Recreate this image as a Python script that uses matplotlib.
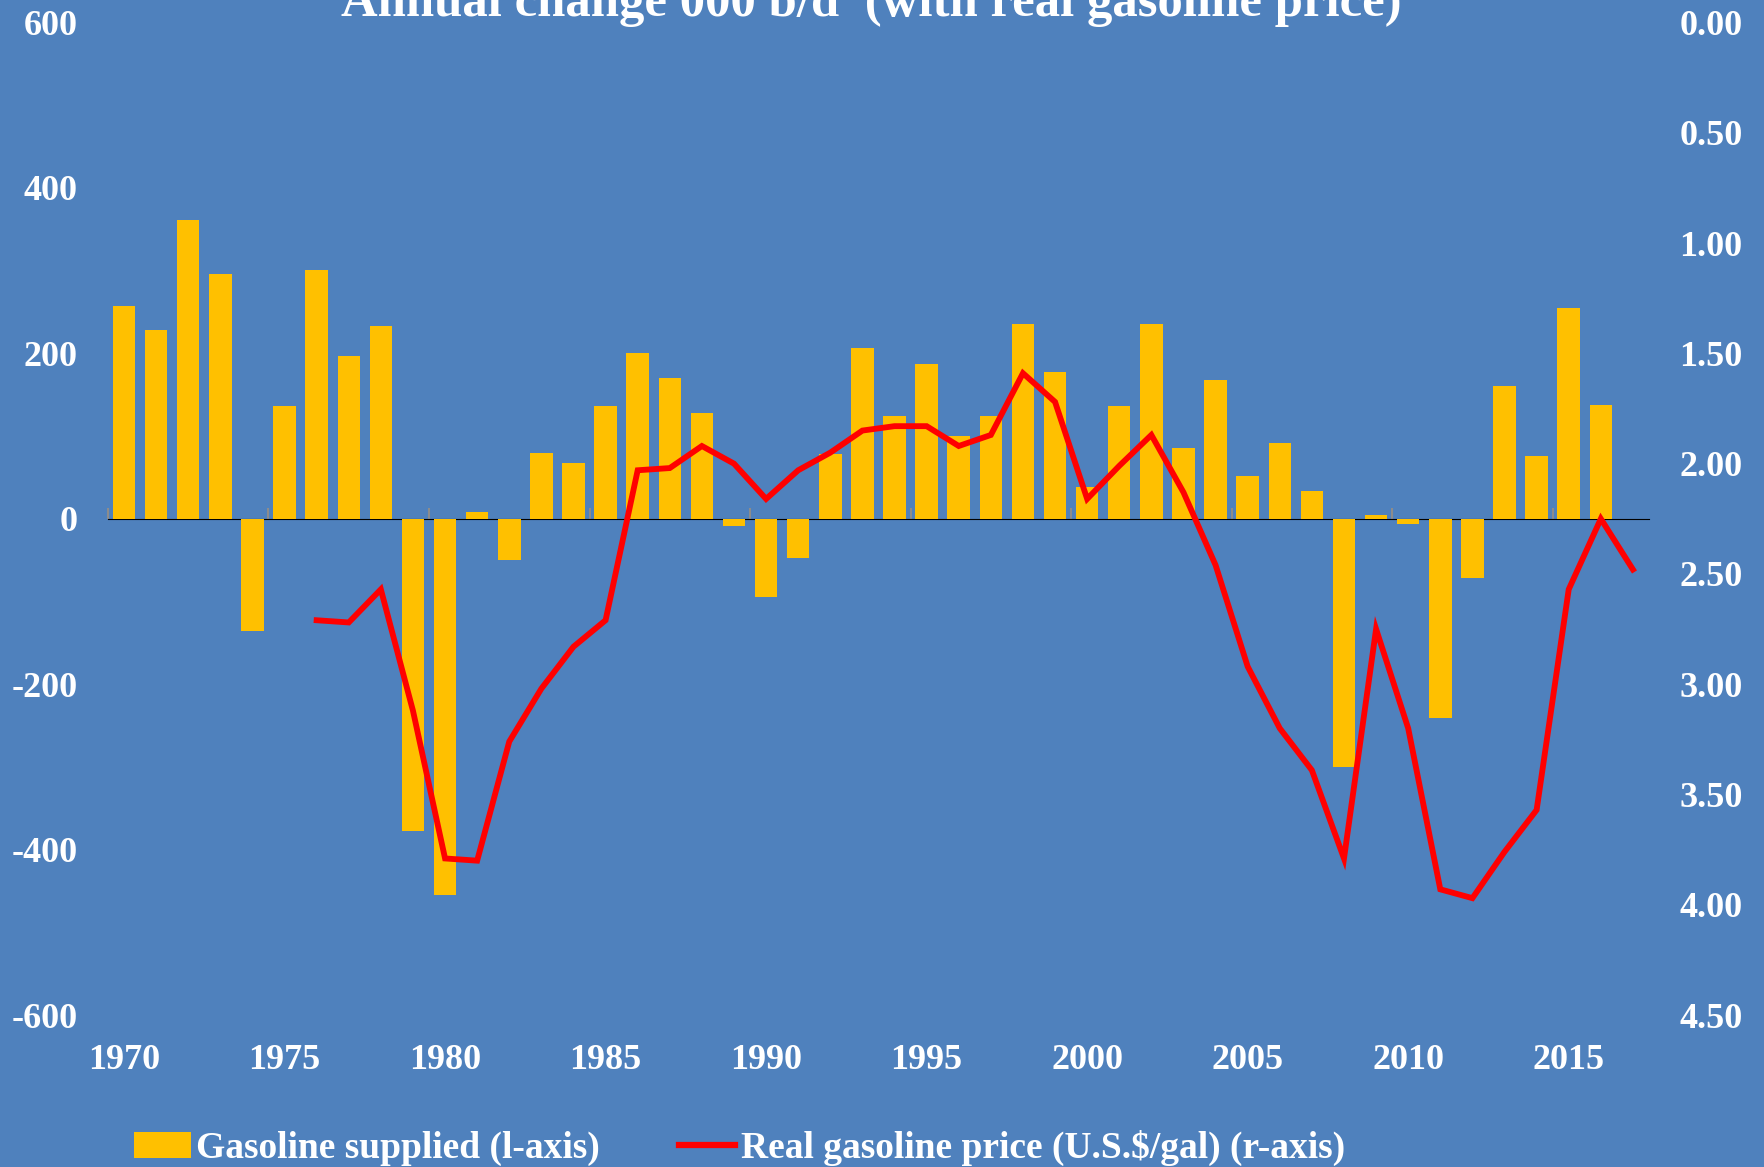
import numpy as np
import matplotlib
matplotlib.use("Agg")
import matplotlib.pyplot as plt
from matplotlib.patches import Patch
from matplotlib.lines import Line2D

# annual change in gasoline supplied, 000 b/d (left axis)
years = np.arange(1970, 2018)
supply_change = [
    257, 228, 361, 296, -136, 136, 301, 197, 233, -378,
    -455, 8, -50, 80, 68, 136, 201, 170, 128, -9,
    -94, -47, 78, 206, 124, 187, 100, 124, 235, 177,
    38, 136, 235, 86, 168, 52, 92, 33, -300, 5,
    -6, -241, -72, 160, 76, 255, 138, np.nan,
]
# real gasoline price, U.S.$/gal (right axis, inverted)
real_price = [
    np.nan, np.nan, np.nan, np.nan, np.nan, np.nan, 2.71, 2.72, 2.57, 3.12,
    3.79, 3.80, 3.26, 3.02, 2.83, 2.71, 2.03, 2.02, 1.92, 2.00,
    2.16, 2.03, 1.95, 1.85, 1.83, 1.83, 1.92, 1.87, 1.59, 1.72,
    2.16, 2.01, 1.87, 2.13, 2.46, 2.92, 3.20, 3.39, 3.79, 2.75,
    3.20, 3.93, 3.97, 3.76, 3.57, 2.57, 2.25, 2.48,
]
left_ticks = [-600, -400, -200, 0, 200, 400, 600]
right_ticks = [0.0, 0.5, 1.0, 1.5, 2.0, 2.5, 3.0, 3.5, 4.0, 4.5]
label_years = list(range(1970, 2016, 5))

bg = "#4F81BD"
bar_color = "#FFC000"
line_color = "#FF0000"
font = ["Liberation Serif", "DejaVu Serif"]

plt.rcParams["font.family"] = font
plt.rcParams["font.weight"] = "bold"

fig = plt.figure(figsize=(17.64, 11.67), dpi=100, facecolor=bg)
ax = fig.add_axes([0.0612, 0.1302, 0.8736, 0.8505])
ax.set_facecolor(bg)

ax.bar(years, supply_change, width=0.7, color=bar_color, zorder=2)
ax.set_xlim(1969.5, 2017.5)
ax.set_ylim(-600, 600)
ax.set_yticks(left_ticks)
ax.set_yticklabels([str(v) for v in left_ticks])
ax.set_xticks(label_years)
ax.set_xticklabels([str(y) for y in label_years])
ax.tick_params(axis="both", length=0, colors="white", labelsize=26)
ax.tick_params(axis="y", pad=22)
ax.tick_params(axis="x", pad=21)
for s in ax.spines.values():
    s.set_visible(False)

# zero line with category-boundary ticks
zero_ax = ax.secondary_xaxis(0.5)
zero_ax.set_xticks(np.arange(1969.5, 2017, 5))
zero_ax.set_xticklabels([])
zero_ax.tick_params(axis="x", direction="out", length=8, width=1.5, color="#8C8C8C")
zero_ax.spines["bottom"].set_color("#8C8C8C")
zero_ax.spines["bottom"].set_linewidth(1.5)

ax2 = ax.twinx()
ax2.plot(years, real_price, color=line_color, lw=4.2, solid_joinstyle="miter", zorder=3)
ax2.set_ylim(4.5, 0.0)
ax2.set_yticks(right_ticks)
ax2.set_yticklabels([f"{v:.2f}" for v in right_ticks])
ax2.tick_params(axis="y", length=0, colors="white", labelsize=26, pad=22)
for s in ax2.spines.values():
    s.set_visible(False)

fig.text(0.494, 0.986, "Annual change 000 b/d  (with real gasoline price)",
         ha="center", va="baseline", color="white", fontsize=36.5, fontweight="bold")

handles = [
    Patch(facecolor=bar_color, edgecolor="none"),
    Line2D([0], [0], color=line_color, lw=4.5),
]
labels = ["Gasoline supplied (l-axis)", "Real gasoline price (U.S.$/gal) (r-axis)"]
leg = fig.legend(handles, labels, loc="center left", bbox_to_anchor=(0.0655, 0.016),
                 ncol=2, frameon=False, fontsize=27, handlelength=1.5,
                 handletextpad=0.15, columnspacing=2.1, borderpad=0)
for t in leg.get_texts():
    t.set_color("white")

fig.savefig("out.png", dpi=100, facecolor=bg)
